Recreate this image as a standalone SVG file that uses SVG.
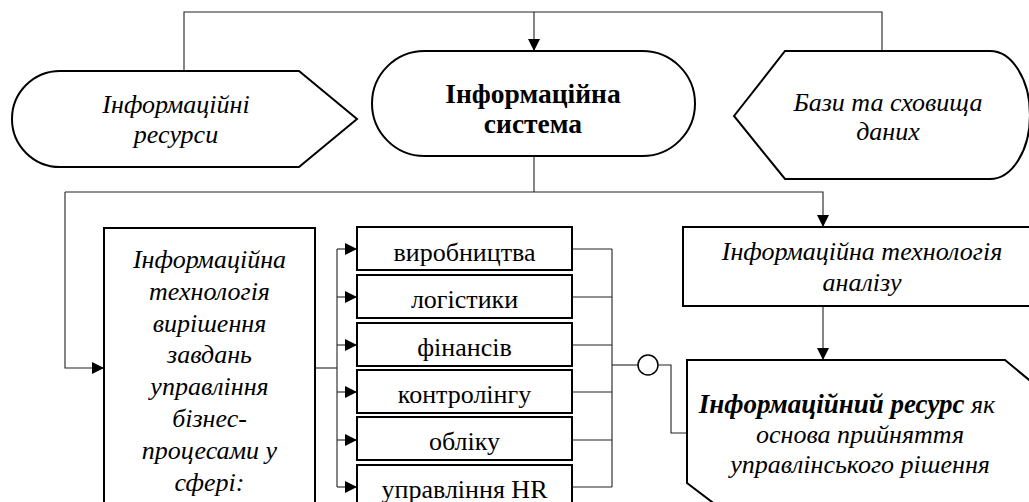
<svg xmlns="http://www.w3.org/2000/svg" width="1029" height="502" viewBox="0 0 1029 502">
<style>
.shape{fill:#fff;stroke:#000;stroke-width:2;stroke-linejoin:miter}
.conn{fill:none;stroke:#222;stroke-width:1.1}
.t{font-family:"Liberation Serif","Times New Roman",serif;font-size:26px;fill:#000;text-anchor:middle}
.i{font-style:italic}
.b{font-weight:bold}
.big{font-size:27.5px}
.mid{font-size:27px}
</style>
<defs>
<marker id="arr" viewBox="0 0 12 12" refX="12" refY="6" markerWidth="12" markerHeight="12" markerUnits="userSpaceOnUse" orient="auto">
<path d="M0,0 L12,6 L0,12 Z" fill="#000"/>
</marker>
</defs>
<rect width="1029" height="502" fill="#fff"/>
<g id="connectors">
<path class="conn" d="M184,71 V12 H882 V51"/>
<path class="conn" d="M534,12 V51" marker-end="url(#arr)"/>
<path class="conn" d="M534,156 V192"/>
<path class="conn" d="M65,192 H823 V227" marker-end="url(#arr)"/>
<path class="conn" d="M65,192 V368 H104" marker-end="url(#arr)"/>
<path class="conn" d="M315,368 H337"/>
<path class="conn" d="M337,249 V487"/>
<path class="conn" d="M337,249 H357" marker-end="url(#arr)"/>
<path class="conn" d="M337,297 H357" marker-end="url(#arr)"/>
<path class="conn" d="M337,345 H357" marker-end="url(#arr)"/>
<path class="conn" d="M337,392 H357" marker-end="url(#arr)"/>
<path class="conn" d="M337,440 H357" marker-end="url(#arr)"/>
<path class="conn" d="M337,487 H357" marker-end="url(#arr)"/>
<path class="conn" d="M572,249 H612 M572,297 H612 M572,345 H612 M572,392 H612 M572,440 H612 M572,487 H612 M612,249 V487"/>
<path class="conn" d="M612,365 H638"/>
<circle cx="648" cy="365" r="10" fill="#fff" stroke="#000" stroke-width="1.5"/>
<path class="conn" d="M658,365 H671 V433 H687"/>
<path class="conn" d="M823,306 V360" marker-end="url(#arr)"/>
</g>
<g id="n-resources">
<path class="shape" d="M60,71 H299 L357,119 L299,167 H60 A48,48 0 0 1 60,71 Z"/>
<text class="t i" x="176" y="113">Інформаційні</text>
<text class="t i" x="176" y="143">ресурси</text>
</g>
<g id="n-system">
<rect class="shape" x="372" y="51" width="323" height="105" rx="52.5" ry="52.5"/>
<text class="t b big" x="533" y="103">Інформаційна</text>
<text class="t b big" x="533" y="133">система</text>
</g>
<g id="n-db">
<path class="shape" d="M734,116 L785,51 H990 A40,64 0 0 1 990,179 H785 Z"/>
<text class="t i" x="888" y="111">Бази та сховища</text>
<text class="t i" x="888" y="140">даних</text>
</g>
<g id="n-ittask">
<rect class="shape" x="104" y="228" width="211" height="300"/>
<text class="t i" x="209.5" y="268">Інформаційна</text>
<text class="t i" x="209.5" y="299.8">технологія</text>
<text class="t i" x="209.5" y="331.6">вирішення</text>
<text class="t i" x="209.5" y="363.4">завдань</text>
<text class="t i" x="209.5" y="395.2">управління</text>
<text class="t i" x="209.5" y="427">бізнес-</text>
<text class="t i" x="209.5" y="458.8">процесами у</text>
<text class="t i" x="209.5" y="490.6">сфері:</text>
</g>
<g id="n-prod"><rect class="shape" x="357" y="227" width="215" height="43"/><text class="t" x="464.5" y="261">виробництва</text></g>
<g id="n-log"><rect class="shape" x="357" y="275" width="215" height="43"/><text class="t" x="464.5" y="308">логістики</text></g>
<g id="n-fin"><rect class="shape" x="357" y="323" width="215" height="43"/><text class="t" x="464.5" y="356">фінансів</text></g>
<g id="n-ctrl"><rect class="shape" x="357" y="370" width="215" height="43"/><text class="t" x="464.5" y="403">контролінгу</text></g>
<g id="n-acc"><rect class="shape" x="357" y="417" width="215" height="43"/><text class="t" x="464.5" y="450">обліку</text></g>
<g id="n-hr"><rect class="shape" x="357" y="465" width="215" height="60"/><text class="t" x="464.5" y="498">управління HR</text></g>
<g id="n-analysis">
<rect class="shape" x="683" y="227" width="358" height="79"/>
<text class="t i" x="862" y="260">Інформаційна технологія</text>
<text class="t i" x="862" y="291">аналізу</text>
</g>
<g id="n-resource">
<path class="shape" d="M687,360 H1005 L1040,389 V530 H735 L712,502 L687,483 Z"/>
<text class="t i" x="847" y="413"><tspan class="b mid">Інформаційний ресурс</tspan> як</text>
<text class="t i" x="860" y="443">основа прийняття</text>
<text class="t i" x="860" y="473">управлінського рішення</text>
</g>
</svg>
